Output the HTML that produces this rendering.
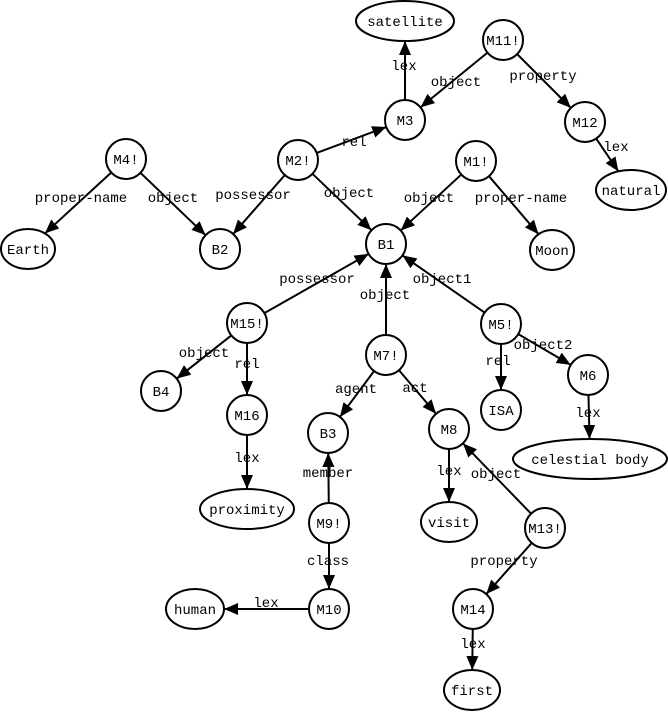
<!DOCTYPE html>
<html><head><meta charset="utf-8"><style>
html,body{margin:0;padding:0;background:#fff}
svg text{font-family:"Liberation Mono",monospace;font-size:14px;fill:#000}
</style></head><body>
<svg id="s" width="668" height="711" viewBox="0 0 668 711" xmlns="http://www.w3.org/2000/svg">
<defs><marker id="a" markerWidth="14" markerHeight="12" refX="14" refY="6" orient="auto" markerUnits="userSpaceOnUse"><path d="M0,0 L14,6 L0,12 z" fill="#000"/></marker></defs>
<g id="e" stroke="#000" stroke-width="2" fill="none"></g>
<g id="n" stroke="#000" stroke-width="2" fill="#fff"></g>
<g id="t" text-anchor="middle"></g>
</svg>
<script>
var N={
sat:[405,21,49,20,"satellite"],M11:[503,40,20,20,"M11!"],M3:[405,120,20,20,"M3"],M12:[585,122,20,20,"M12"],
nat:[631,190,35,20,"natural"],M4:[126,159,20,20,"M4!"],M2:[298,160,20,20,"M2!"],M1:[476,161,20,20,"M1!"],
Earth:[28,249,27,20,"Earth"],B2:[220,249,20,20,"B2"],B1:[386,244,20,20,"B1"],Moon:[552,250,22,20,"Moon"],
M15:[247,323,20,20,"M15!"],M7:[386,355,20,20,"M7!"],M5:[501,324,20,20,"M5!"],B4:[161,391,20,20,"B4"],
M16:[247,415,20,20,"M16"],ISA:[501,410,20,20,"ISA"],M6:[588,375,20,20,"M6"],B3:[328,433,20,20,"B3"],
M8:[449,429,20,20,"M8"],cel:[590,459,77,20,"celestial body"],prox:[247,509,47,20,"proximity"],
M9:[329,523,20,20,"M9!"],visit:[449,522,28,20,"visit"],M13:[545,528,20,20,"M13!"],human:[195,609,29,20,"human"],
M10:[329,609,20,20,"M10"],M14:[473,609,20,20,"M14"],first:[472,690,28,20,"first"]};
var E=[["M3","sat","lex",404,70],["M11","M3","object",456,86],["M11","M12","property",543,80],["M12","nat","lex",616,151],
["M2","M3","rel",354,146],["M4","Earth","proper-name",81,202],["M4","B2","object",173,202],["M2","B2","possessor",253,199],
["M2","B1","object",349,197],["M1","B1","object",429,202],["M1","Moon","proper-name",521,202],["M15","B1","possessor",317,283],
["M7","B1","object",385,299],["M5","B1","object1",442,283],["M15","B4","object",204,357],["M15","M16","rel",247,368],
["M5","ISA","rel",498,365],["M5","M6","object2",543,349],["M7","B3","agent",356,393],["M7","M8","act",415,392],
["M6","cel","lex",588,417],["M16","prox","lex",247,462],["M9","B3","member",328,477],["M8","visit","lex",449,475],
["M13","M8","object",496,478],["M9","M10","class",328,565],["M13","M14","property",504,565],["M10","human","lex",266,607],
["M14","first","lex",473,648]];
var ns="http://www.w3.org/2000/svg";
function el(p,t,a,tx){var e=document.createElementNS(ns,t);for(var k in a)e.setAttribute(k,a[k]);if(tx)e.textContent=tx;document.getElementById(p).appendChild(e);}
function edge(c,dx,dy){var rx=c[2],ry=c[3];var t=1/Math.sqrt(dx*dx/(rx*rx)+dy*dy/(ry*ry));return [c[0]+dx*t,c[1]+dy*t];}
E.forEach(function(x){var a=N[x[0]],b=N[x[1]];var dx=b[0]-a[0],dy=b[1]-a[1];var p=edge(a,dx,dy),q=edge(b,-dx,-dy);
el("e","line",{x1:p[0],y1:p[1],x2:q[0],y2:q[1],"marker-end":"url(#a)"});
el("t","text",{x:x[3],y:x[4]},x[2]);});
for(var k in N){var c=N[k];el("n","ellipse",{cx:c[0],cy:c[1],rx:c[2],ry:c[3]});el("t","text",{x:c[0],y:c[1]+5},c[4]);}
</script>
</body></html>
